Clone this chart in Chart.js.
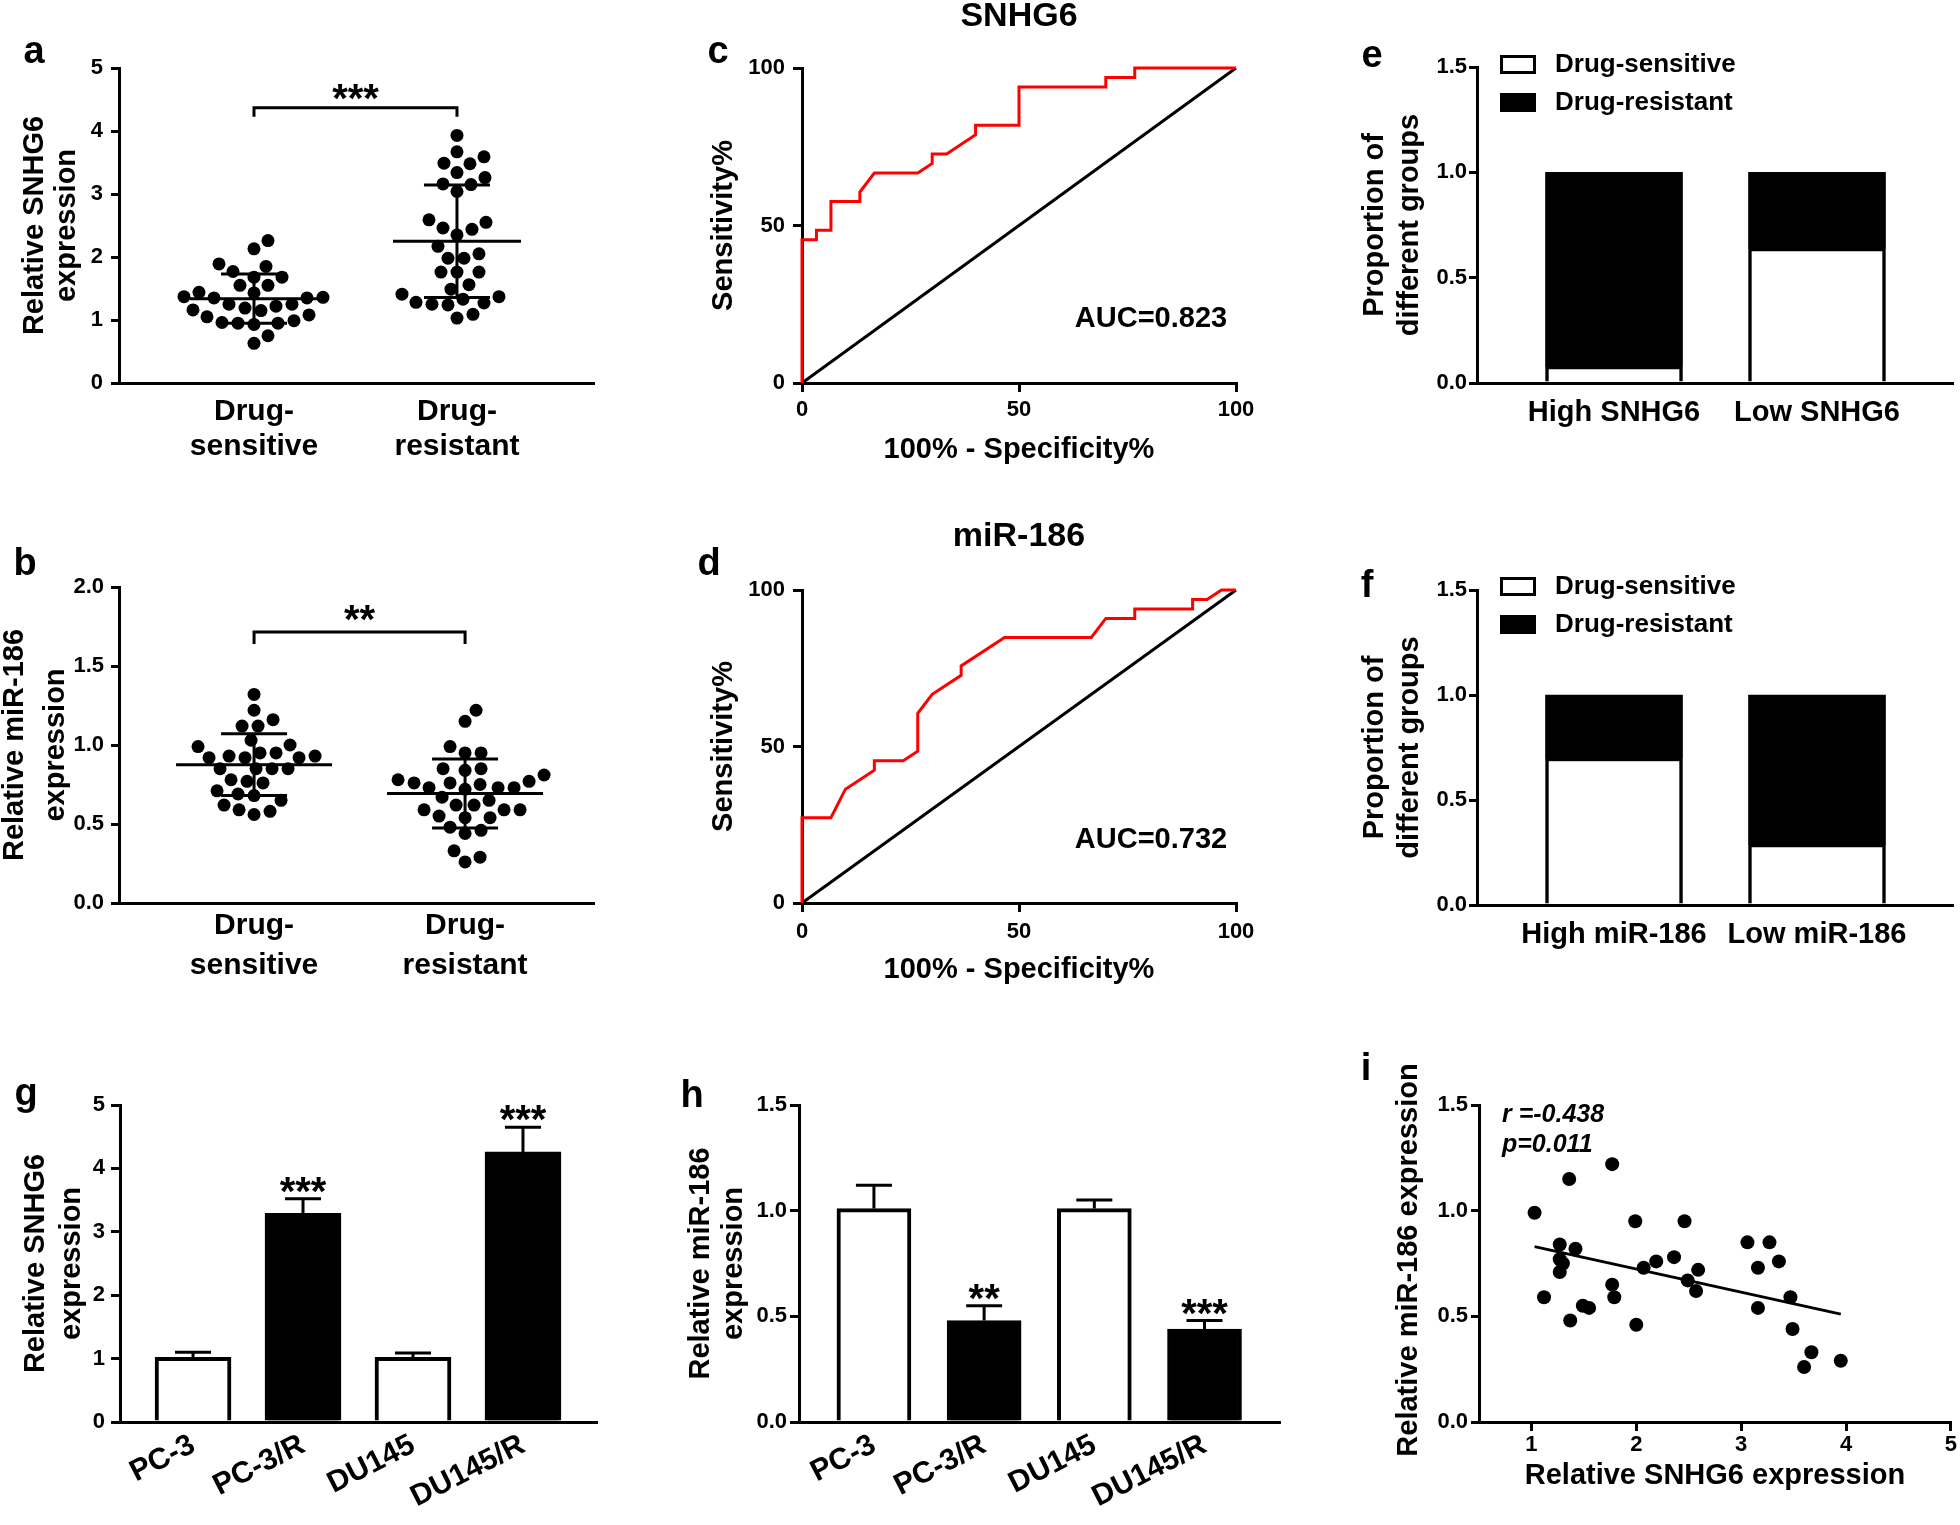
<!DOCTYPE html>
<html>
<head>
<meta charset="utf-8">
<script src="https://cdn.jsdelivr.net/npm/chart.js@4.4.1/dist/chart.umd.min.js"></script>
<style>
  body { margin: 0; background: #fff; }
  #fig { position: relative; width: 1960px; height: 1525px; background: #fff; }
  #fig canvas { position: absolute; }
</style>
</head>
<body>
<div id="fig"></div>
<script>
// ---------- data ----------
const scatterGroups = [['Drug-', 'sensitive'], ['Drug-', 'resistant']];

// a: relative SNHG6 expression per patient
const snhg6Sensitive = [2.26, 2.13, 1.89, 1.85, 1.77, 1.68, 1.68, 1.55, 1.55, 1.44, 1.43, 1.37, 1.36, 1.35, 1.35,
  1.25, 1.25, 1.22, 1.19, 1.16, 1.15, 1.08, 1.05, 0.99, 0.96, 0.95, 0.95, 0.93, 0.75, 0.63];
const snhg6Resistant = [3.93, 3.67, 3.59, 3.49, 3.48, 3.34, 3.26, 3.16, 3.15, 3.04, 2.59, 2.55, 2.46, 2.44, 2.35,
  2.17, 2.05, 1.98, 1.98, 1.76, 1.76, 1.76, 1.56, 1.49, 1.41, 1.37, 1.33, 1.28, 1.27, 1.25, 1.24, 1.09, 1.03];

// b: relative miR-186 expression per patient
const mirSensitive = [1.32, 1.22, 1.16, 1.12, 1.12, 1.03, 1.00, 0.99, 0.95, 0.95, 0.93, 0.93, 0.92, 0.92, 0.92,
  0.85, 0.85, 0.85, 0.85, 0.78, 0.77, 0.76, 0.71, 0.69, 0.68, 0.65, 0.62, 0.59, 0.58, 0.56];
const mirResistant = [1.22, 1.15, 0.99, 0.95, 0.95, 0.85, 0.85, 0.84, 0.81, 0.78, 0.77, 0.76, 0.76, 0.75, 0.73,
  0.73, 0.73, 0.72, 0.67, 0.65, 0.62, 0.62, 0.59, 0.59, 0.59, 0.55, 0.54, 0.54, 0.48, 0.46, 0.44, 0.33, 0.29, 0.26];

// c, d: ROC curves (100% - specificity, sensitivity)
const rocTicks = [0, 50, 100];
const chanceLine = [0, 100];
const rocSnhg6X = [0, 0, 3.33, 3.33, 6.67, 6.67, 13.33, 13.33, 16.67, 26.67, 30, 30, 33.33, 40, 40, 50, 50, 70, 70, 76.67, 76.67, 100];
const rocSnhg6Y = [0, 45.45, 45.45, 48.48, 48.48, 57.58, 57.58, 60.61, 66.67, 66.67, 69.70, 72.73, 72.73, 78.79, 81.82, 81.82, 93.94, 93.94, 96.97, 96.97, 100, 100];
const rocMirX = [0, 0, 6.67, 10, 16.67, 16.67, 23.33, 26.67, 26.67, 30, 36.67, 36.67, 46.67, 66.67, 70, 76.67, 76.67, 90, 90, 93.33, 96.67, 100];
const rocMirY = [0, 27.27, 27.27, 36.36, 42.42, 45.45, 45.45, 48.48, 60.61, 66.67, 72.73, 75.76, 84.85, 84.85, 90.91, 90.91, 93.94, 93.94, 96.97, 96.97, 100, 100];
const aucSnhg6 = 'AUC=0.823';
const aucMir = 'AUC=0.732';

// e, f: proportions
const propLabels = ['Drug-sensitive', 'Drug-resistant'];
const snhg6Groups = ['High SNHG6', 'Low SNHG6'];
const snhg6PropSensitive = [0.08, 0.64];
const snhg6PropResistant = [0.92, 0.36];
const mirGroups = ['High miR-186', 'Low miR-186'];
const mirPropSensitive = [0.70, 0.29];
const mirPropResistant = [0.30, 0.71];

// g, h: cell lines
const cellLines = ['PC-3', 'PC-3/R', 'DU145', 'DU145/R'];
const cellSnhg6 = [1.02, 3.29, 1.02, 4.26];
const cellSnhg6Err = [0.08, 0.23, 0.07, 0.39];
const cellSnhg6Stars = ['', '***', '', '***'];
const cellMir = [1.01, 0.48, 1.01, 0.44];
const cellMirErr = [0.11, 0.07, 0.04, 0.04];
const cellMirStars = ['', '**', '', '***'];

// i: correlation
const corrXTicks = [1, 2, 3, 4, 5];
const corrSnhg6 = [1.03, 1.36, 1.77, 1.12, 1.27, 1.27, 1.30, 1.27, 1.42, 1.37, 1.49, 1.55, 1.77, 1.79, 1.99, 2.00, 2.07,
  2.19, 2.36, 2.46, 2.49, 2.57, 2.59, 3.06, 3.16, 3.16, 3.27, 3.36, 3.47, 3.49, 3.67, 3.60, 3.95];
const corrMir = [0.99, 1.15, 1.22, 0.59, 0.84, 0.77, 0.75, 0.71, 0.82, 0.48, 0.55, 0.54, 0.65, 0.59, 0.95, 0.46, 0.73,
  0.76, 0.78, 0.95, 0.67, 0.62, 0.72, 0.85, 0.73, 0.54, 0.85, 0.76, 0.59, 0.44, 0.33, 0.26, 0.29];
const corrR = 'r =-0.438';
const corrP = 'p=0.011';

// ---------- helpers ----------
const FAM = "'Liberation Sans', Arial, Helvetica, sans-serif";
const font = (size, style) => (style || '') + ' bold ' + size + 'px ' + FAM;
const TICK = 22;

Chart.defaults.font.family = FAM;
Chart.defaults.font.weight = 'bold';
Chart.defaults.color = '#000';
Chart.defaults.animation = false;
Chart.defaults.responsive = false;
Chart.defaults.devicePixelRatio = 1;
Chart.defaults.plugins.legend.display = false;
Chart.defaults.plugins.tooltip.enabled = false;

function makeCanvas(left, top, w, h) {
  const c = document.createElement('canvas');
  c.width = w; c.height = h;
  c.style.left = left + 'px'; c.style.top = top + 'px';
  document.getElementById('fig').appendChild(c);
  return c.getContext('2d');
}

function valueAxis(o) {
  return {
    type: 'linear', min: o.min, max: o.max,
    afterFit: s => { s.width = o.width; },
    ticks: { stepSize: o.step, padding: o.pad, font: { size: TICK }, callback: o.fmt || (v => v) },
    grid: { drawOnChartArea: false, tickLength: o.tick, color: '#000', lineWidth: 3 },
    border: { color: '#000', width: 3 },
    title: {
      display: !!o.title, text: o.title,
      font: { size: 29, lineHeight: (o.lh || 35) / 29 },
      padding: { top: o.tpad || 0, bottom: 0 }
    }
  };
}

function numAxis(o) {
  return {
    type: 'linear', min: o.min, max: o.max,
    afterFit: s => { s.height = o.height; },
    afterBuildTicks: s => { s.ticks = o.ticks.map(v => ({ value: v })); },
    ticks: { padding: o.pad, font: { size: TICK, lineHeight: 1 }, maxRotation: 0, autoSkip: false },
    grid: { drawOnChartArea: false, tickLength: o.tick, color: '#000', lineWidth: 3 },
    border: { color: '#000', width: 3 },
    title: { display: true, text: o.title, font: { size: 29 }, padding: { top: 0, bottom: o.tpad } }
  };
}

function catAxis(o) {
  const size = o.size || 30;
  return {
    type: 'linear', min: o.min, max: o.max, offset: false,
    afterFit: s => { s.height = o.height; },
    afterBuildTicks: s => { s.ticks = o.labels.map((l, i) => ({ value: o.first + i })); },
    ticks: {
      autoSkip: false, padding: o.pad, minRotation: o.rot || 0, maxRotation: o.rot || 0,
      font: { size: size, lineHeight: (o.lh || size) / size }, callback: (v, i) => o.labels[i]
    },
    grid: { drawOnChartArea: false, drawTicks: false, offset: false },
    border: { color: '#000', width: 3 }
  };
}

// spread dots sideways so they do not overlap (simple beeswarm)
function swarm(vals, pxX, pxY, gap) {
  const order = vals.map((v, i) => i).sort((a, b) => vals[a] - vals[b]);
  const placed = [];
  const off = vals.map(() => 0);
  order.forEach(i => {
    const y = vals[i] * pxY;
    for (let k = 0; k < 600; k++) {
      const dx = (k % 2 ? 1 : -1) * Math.ceil(k / 2);
      if (placed.every(p => Math.hypot(p.x - dx, p.y - y) >= gap)) {
        placed.push({ x: dx, y: y });
        off[i] = dx / pxX;
        break;
      }
    }
  });
  return off;
}

function swarmSet(vals, pos, pxX, pxY) {
  const off = swarm(vals, pxX, pxY, 15.5);
  return {
    data: vals.map((v, i) => ({ x: pos + off[i], y: v })),
    pointRadius: 6.5, pointBackgroundColor: '#000', pointBorderWidth: 0
  };
}

const mean = a => a.reduce((s, v) => s + v, 0) / a.length;
const sd = a => { const m = mean(a); return Math.sqrt(a.reduce((s, v) => s + (v - m) ** 2, 0) / (a.length - 1)); };

function linFit(xs, ys) {
  const mx = mean(xs), my = mean(ys);
  let sxy = 0, sxx = 0;
  xs.forEach((x, i) => { sxy += (x - mx) * (ys[i] - my); sxx += (x - mx) ** 2; });
  const b = sxy / sxx;
  return { a: my - b * mx, b: b };
}

// ---------- plugins ----------
function notesPlugin(items) {
  return {
    id: 'notes',
    afterDraw(chart) {
      const ctx = chart.ctx;
      items.forEach(t => {
        ctx.save();
        ctx.font = t.font; ctx.fillStyle = '#000';
        ctx.textAlign = t.align || 'center';
        ctx.textBaseline = t.baseline || 'alphabetic';
        ctx.translate(t.x, t.y);
        if (t.rotate) ctx.rotate(t.rotate);
        ctx.fillText(t.text, 0, 0);
        ctx.restore();
      });
    }
  };
}

function meanSdPlugin(half, cap) {
  return {
    id: 'meanSd',
    afterDatasetsDraw(chart) {
      const { ctx, scales: { x, y } } = chart;
      ctx.save();
      ctx.strokeStyle = '#000'; ctx.lineWidth = 3;
      chart.data.datasets.forEach((ds, i) => {
        const v = ds.data.map(p => p.y);
        const m = mean(v), s = sd(v);
        const px = x.getPixelForValue(i);
        const ym = y.getPixelForValue(m), yh = y.getPixelForValue(m + s), yl = y.getPixelForValue(m - s);
        ctx.beginPath();
        ctx.moveTo(px - half, ym); ctx.lineTo(px + half, ym);
        ctx.moveTo(px, yh); ctx.lineTo(px, yl);
        ctx.moveTo(px - cap, yh); ctx.lineTo(px + cap, yh);
        ctx.moveTo(px - cap, yl); ctx.lineTo(px + cap, yl);
        ctx.stroke();
      });
      ctx.restore();
    }
  };
}

function bracketPlugin(top, tick, text, gap) {
  return {
    id: 'bracket',
    afterDraw(chart) {
      const { ctx, scales: { x, y } } = chart;
      const x0 = x.getPixelForValue(0), x1 = x.getPixelForValue(1), yt = y.getPixelForValue(top);
      ctx.save();
      ctx.strokeStyle = '#000'; ctx.lineWidth = 3;
      ctx.beginPath();
      ctx.moveTo(x0, yt + tick); ctx.lineTo(x0, yt); ctx.lineTo(x1, yt); ctx.lineTo(x1, yt + tick);
      ctx.stroke();
      ctx.font = font(40); ctx.fillStyle = '#000'; ctx.textAlign = 'center';
      ctx.fillText(text, (x0 + x1) / 2, yt - gap + 22);
      ctx.restore();
    }
  };
}

function errorBarsPlugin(vals, errs, stars) {
  return {
    id: 'errorBars',
    afterDatasetsDraw(chart) {
      const { ctx, scales: { x, y } } = chart;
      ctx.save();
      ctx.strokeStyle = '#000'; ctx.lineWidth = 3;
      ctx.font = font(40); ctx.fillStyle = '#000'; ctx.textAlign = 'center';
      vals.forEach((v, i) => {
        const px = x.getPixelForValue(i + 1);
        const yb = y.getPixelForValue(v), yt = y.getPixelForValue(v + errs[i]);
        ctx.beginPath();
        ctx.moveTo(px, yb); ctx.lineTo(px, yt);
        ctx.moveTo(px - 18, yt); ctx.lineTo(px + 18, yt);
        ctx.stroke();
        if (stars[i]) ctx.fillText(stars[i], px, yt + 6);
      });
      ctx.restore();
    }
  };
}

function legendPlugin(x0, y0, gap) {
  return {
    id: 'boxLegend',
    afterDraw(chart) {
      const ctx = chart.ctx;
      ctx.save();
      chart.data.datasets.forEach((ds, i) => {
        const y = y0 + i * gap;
        ctx.fillStyle = ds.backgroundColor; ctx.fillRect(x0, y, 36, 19);
        ctx.strokeStyle = '#000'; ctx.lineWidth = 3; ctx.strokeRect(x0 + 1.5, y + 1.5, 33, 16);
        ctx.fillStyle = '#000'; ctx.font = font(26); ctx.textBaseline = 'middle'; ctx.textAlign = 'left';
        ctx.fillText(ds.label, x0 + 55, y + 10);
      });
      ctx.restore();
    }
  };
}

const letter = (t, x, y) => ({ text: t, x: x, y: y, font: font(38) });
const fmt1 = v => v.toFixed(1);

// ---------- a ----------
new Chart(makeCanvas(0, 0, 640, 480), {
  type: 'scatter',
  data: { datasets: [swarmSet(snhg6Sensitive, 0, 203, 63), swarmSet(snhg6Resistant, 1, 203, 63)] },
  options: {
    layout: { padding: { left: 0, top: 68, right: 46, bottom: 0 } },
    scales: {
      x: catAxis({ min: -0.665, max: 1.675, labels: scatterGroups, first: 0, height: 97, pad: 11, lh: 35 }),
      y: valueAxis({ min: 0, max: 5, step: 1, width: 119, tick: 8, pad: 8, title: ['Relative SNHG6', 'expression'], lh: 32, tpad: 18.5 })
    }
  },
  plugins: [meanSdPlugin(64, 33), bracketPlugin(4.37, 9, '***', 18), notesPlugin([letter('a', 34, 63)])]
});

// ---------- b ----------
new Chart(makeCanvas(0, 500, 640, 480), {
  type: 'scatter',
  data: { datasets: [swarmSet(mirSensitive, 0, 211, 158), swarmSet(mirResistant, 1, 211, 158)] },
  options: {
    layout: { padding: { left: 0, top: 87, right: 46, bottom: 0 } },
    scales: {
      x: catAxis({ min: -0.64, max: 1.611, labels: scatterGroups, first: 0, height: 77, pad: 3, lh: 40 }),
      y: valueAxis({ min: 0, max: 2, step: 0.5, width: 119, tick: 8, pad: 7, title: ['Relative miR-186', 'expression'], lh: 41, tpad: -5.6, fmt: fmt1 })
    }
  },
  plugins: [meanSdPlugin(78, 33), bracketPlugin(1.715, 12, '**', 21), notesPlugin([letter('b', 25, 75)])]
});

// ---------- c, d ----------
function rocChart(ctx, xs, ys, top, xh, lpad, tpadB, title, titleY, auc, aucY, let0) {
  return new Chart(ctx, {
    type: 'scatter',
    data: {
      datasets: [
        { data: xs.map((x, i) => ({ x: x, y: ys[i] })), showLine: true, borderColor: '#ff0000', borderWidth: 3, pointRadius: 0, clip: 4 },
        { data: chanceLine.map(v => ({ x: v, y: v })), showLine: true, borderColor: '#000', borderWidth: 3, pointRadius: 0, clip: 4 }
      ]
    },
    options: {
      layout: { padding: { left: 0, top: top, right: 44, bottom: 0 } },
      scales: {
        x: numAxis({ min: 0, max: 100, ticks: rocTicks, height: xh, tick: 9, pad: lpad, title: '100% - Specificity%', tpad: tpadB }),
        y: valueAxis({ min: 0, max: 100, step: 50, width: 122, tick: 9, pad: 8, title: 'Sensitivity%', lh: 34.8, tpad: 26.6 })
      }
    },
    plugins: [notesPlugin([
      let0,
      { text: title, x: 339, y: titleY, font: font(34) },
      { text: auc, x: 471, y: aucY, font: font(29) }
    ])]
  });
}
rocChart(makeCanvas(680, 0, 600, 480), rocSnhg6X, rocSnhg6Y, 68, 97, 7, 13, 'SNHG6', 26, aucSnhg6, 327, letter('c', 38, 63));
rocChart(makeCanvas(680, 500, 600, 490), rocMirX, rocMirY, 90, 87, 9, 3, 'miR-186', 46, aucMir, 348, letter('d', 29, 75));

// ---------- e, f ----------
function propChart(ctx, groups, sens, res, top, xh, legY, let0) {
  return new Chart(ctx, {
    type: 'bar',
    data: {
      datasets: [
        { label: propLabels[0], data: sens.map((v, i) => ({ x: i + 1, y: v })), backgroundColor: '#fff', borderColor: '#000', borderWidth: 3.5, borderSkipped: 'start', barThickness: 137, grouped: false },
        { label: propLabels[1], data: res.map((v, i) => ({ x: i + 1, y: v })), backgroundColor: '#000', borderColor: '#000', borderWidth: 0, barThickness: 137, grouped: false }
      ]
    },
    options: {
      layout: { padding: { left: 0, top: top, right: 7, bottom: 0 } },
      scales: {
        x: catAxis({ min: 0.325, max: 2.67, labels: groups, first: 1, height: xh, pad: 15.5, size: 29 }),
        y: Object.assign(valueAxis({ min: 0, max: 1.5, step: 0.5, width: 157, tick: 8, pad: 2, title: ['Proportion of', 'different groups'], lh: 34.7, tpad: 38, fmt: fmt1 }), { stacked: true })
      }
    },
    plugins: [legendPlugin(180, legY, 38), notesPlugin([let0])]
  });
}
propChart(makeCanvas(1320, 0, 640, 460), snhg6Groups, snhg6PropSensitive, snhg6PropResistant, 67, 77, 55, letter('e', 52, 67));
propChart(makeCanvas(1320, 500, 640, 470), mirGroups, mirPropSensitive, mirPropResistant, 90, 65, 77, letter('f', 47, 97));

// ---------- g, h ----------
const barFills = ['#fff', '#000', '#fff', '#000'];
function cellChart(ctx, vals, errs, stars, o) {
  return new Chart(ctx, {
    type: 'bar',
    data: {
      datasets: [{ data: vals.map((v, i) => ({ x: i + 1, y: v })), backgroundColor: barFills, borderColor: '#000', borderWidth: 4, borderSkipped: 'start', barThickness: o.bar }]
    },
    options: {
      layout: { padding: { left: 0, top: 65, right: o.right, bottom: 0 } },
      scales: {
        x: catAxis({ min: o.xmin, max: o.xmax, labels: cellLines, first: 1, height: 103, pad: 8, rot: 27, size: 30 }),
        y: valueAxis(o.y)
      }
    },
    plugins: [errorBarsPlugin(vals, errs, stars), notesPlugin([o.letter])]
  });
}
cellChart(makeCanvas(0, 1040, 640, 485), cellSnhg6, cellSnhg6Err, cellSnhg6Stars, {
  bar: 76, right: 43, xmin: 0.336, xmax: 4.673, letter: letter('g', 26, 65),
  y: { min: 0, max: 5, step: 1, width: 120, tick: 9, pad: 6, title: ['Relative SNHG6', 'expression'], lh: 36.4, tpad: 17.6 }
});
cellChart(makeCanvas(660, 1040, 640, 485), cellMir, cellMirErr, cellMirStars, {
  bar: 74, right: 20, xmin: 0.32, xmax: 4.685, letter: letter('h', 32, 67),
  y: { min: 0, max: 1.5, step: 0.5, width: 139, tick: 9, pad: 3, title: ['Relative miR-186', 'expression'], lh: 32.7, tpad: 24.5, fmt: fmt1 }
});

// ---------- i ----------
const fit = linFit(corrSnhg6, corrMir);
const fitEnds = [Math.min(...corrSnhg6), Math.max(...corrSnhg6)];
new Chart(makeCanvas(1340, 1030, 620, 495), {
  type: 'scatter',
  data: {
    datasets: [
      { data: corrSnhg6.map((x, i) => ({ x: x, y: corrMir[i] })), pointRadius: 7, pointBackgroundColor: '#000', pointBorderWidth: 0 },
      { data: fitEnds.map(x => ({ x: x, y: fit.a + fit.b * x })), showLine: true, borderColor: '#000', borderWidth: 3, pointRadius: 0 }
    ]
  },
  options: {
    layout: { padding: { left: 0, top: 75, right: 6, bottom: 0 } },
    scales: {
      x: numAxis({ min: 0.5, max: 5, ticks: corrXTicks, height: 103, tick: 9, pad: 3, title: 'Relative SNHG6 expression', tpad: 32 }),
      y: valueAxis({ min: 0, max: 1.5, step: 0.5, width: 139, tick: 8, pad: 3, fmt: fmt1 })
    }
  },
  plugins: [notesPlugin([
    letter('i', 26, 50),
    { text: 'Relative miR-186 expression', x: 69, y: 230, rotate: -Math.PI / 2, baseline: 'middle', font: font(29) },
    { text: corrR, x: 162, y: 92, align: 'left', font: font(25, 'italic') },
    { text: corrP, x: 162, y: 122, align: 'left', font: font(25, 'italic') }
  ])]
});
</script>
</body>
</html>
